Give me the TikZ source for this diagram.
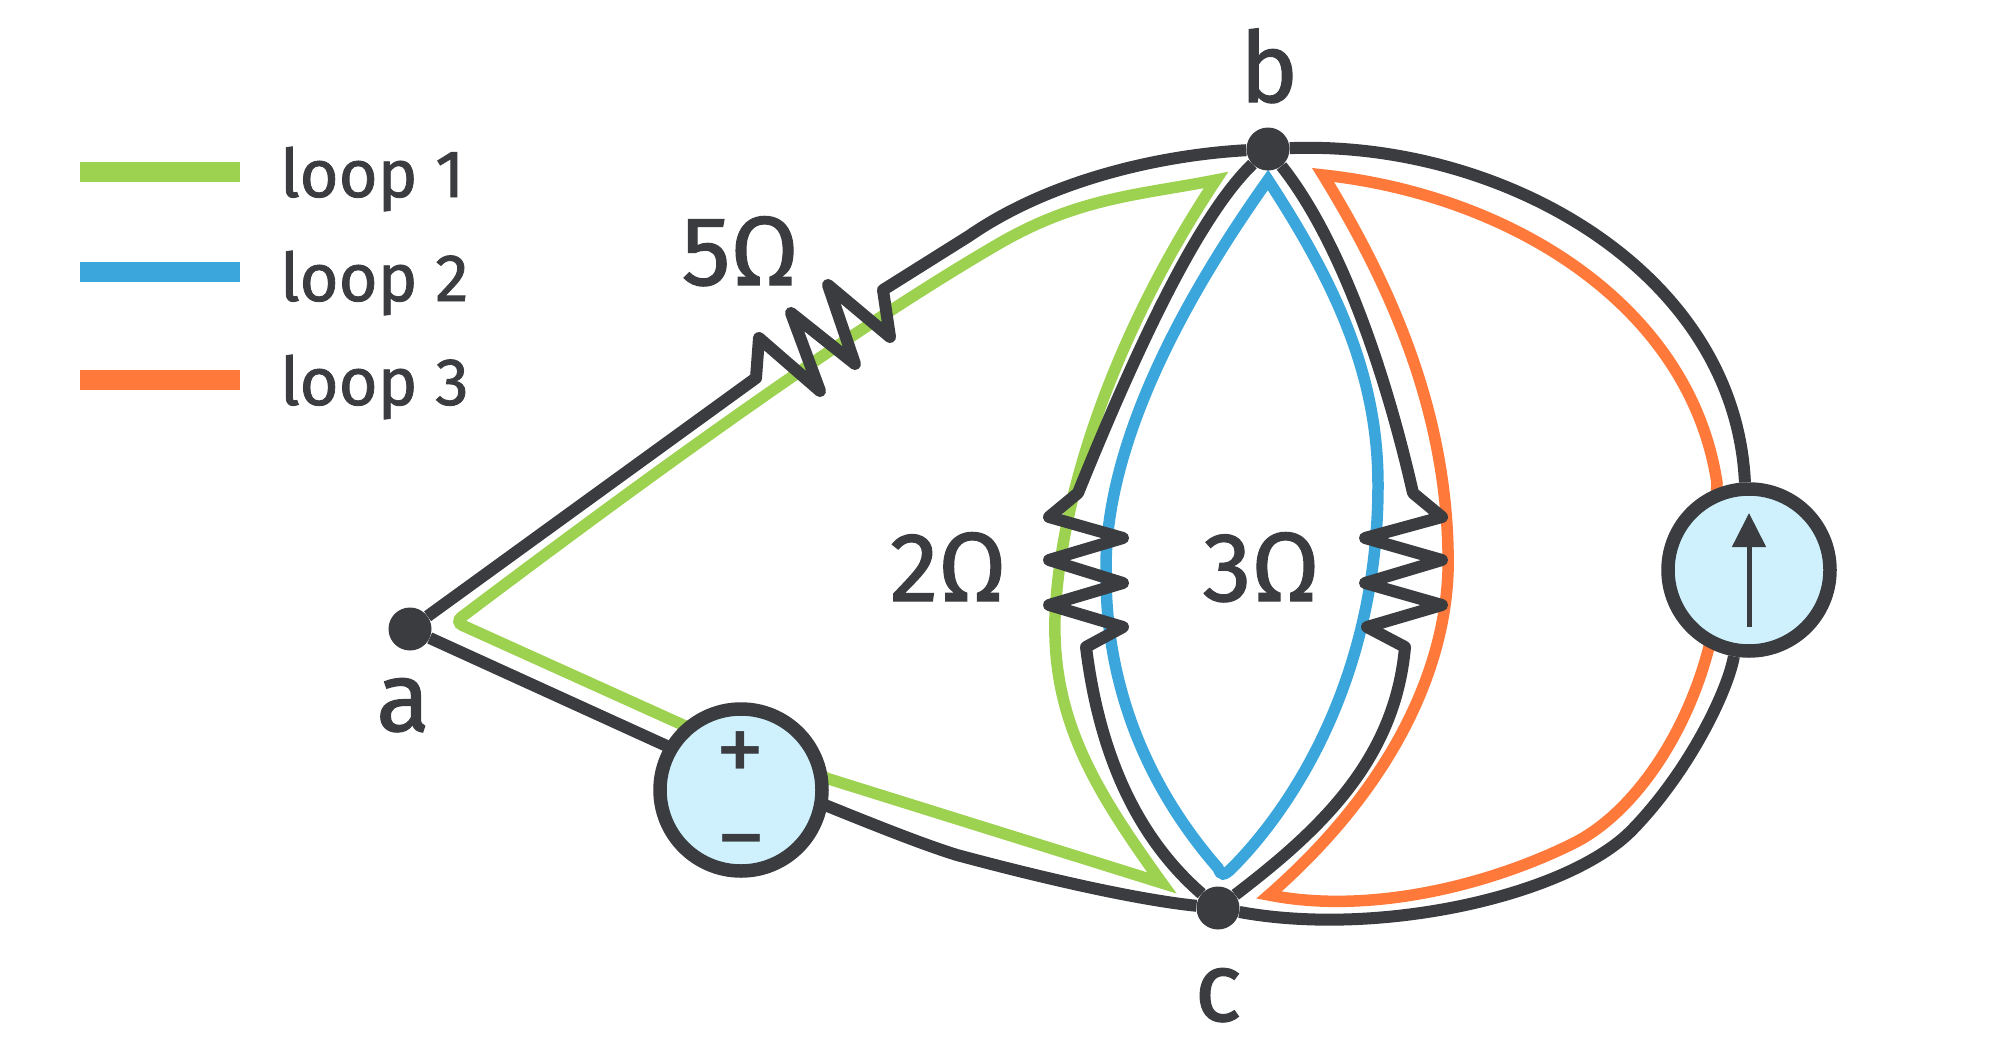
\documentclass[tikz,border=0pt]{standalone}
\usepackage{fontspec}
\setmainfont{Fira Sans}
\newfontfamily\labelfont[FakeBold=1.2]{Fira Sans}
\usetikzlibrary{arrows.meta,backgrounds}
\definecolor{wirecol}{HTML}{3A3C40}
\definecolor{srcfill}{HTML}{CFF1FD}
\definecolor{loopone}{HTML}{9DD250}
\definecolor{looptwo}{HTML}{3BA6DC}
\definecolor{loopthree}{HTML}{FF7A3A}

\begin{document}
\begin{tikzpicture}[
    x=1pt, y=-1pt,
    wire/.style={draw=wirecol, line width=12pt, line join=round},
    loopline/.style={line width=11.5pt, line join=miter, miter limit=20},
    junction/.style={circle, fill=wirecol, minimum size=43pt, inner sep=0pt},
    source/.style={circle, draw=wirecol, fill=srcfill, line width=13.5pt, minimum size=162pt, inner sep=0pt},
    label/.style={text=wirecol, font=\labelfont\fontsize{98}{98}\selectfont, anchor=base, inner sep=0pt},
    legendlab/.style={text=wirecol, font=\labelfont\fontsize{67}{67}\selectfont, anchor=base west, inner sep=0pt},
    sign/.style={text=wirecol, font=\fontsize{100}{100}\selectfont, inner sep=0pt}
]
\useasboundingbox (0,0) rectangle (2000,1044);

% legend
\foreach \i/\ybar/\ybase/\col in {1/172/197/loopone, 2/272/301/looptwo, 3/380/405/loopthree} {
    \fill[\col] (80,\ybar-10) rectangle (240,\ybar+10);
    \node[legendlab] (leg\i) at (280,\ybase) {loop \i};
}

\node[junction] (a) at (410,629) {};
\node[junction] (b) at (1268,149) {};
\node[junction] (c) at (1218,908) {};
\node[source] (vsrc) at (741,790) {};
\node[source] (isrc) at (1749,570) {};

\node[label] (la) at (403,731) {a};
\node[label] (lb) at (1269,102) {b};
\node[label] (lc) at (1218,1021) {c};
\node[label] (r5) at (740,285) {5Ω};
\node[label] (r2) at (948,601) {2Ω};
\node[label] (r3) at (1261,601) {3Ω};

\node[sign] (plus) at (740,758) {+};
\node[sign] (minus) at (741,853) {−};
\coordinate (arrbot) at (1749,627);
\coordinate (arrtop) at (1749,513);
\draw[wirecol, line width=5pt, -{Triangle[length=34pt,width=33pt]}] (arrbot) -- (arrtop);

\begin{scope}[on background layer]
% the three loops
\draw[loopline, loopone] (1216,180) .. controls (1110,340) and (1060,500) .. (1055,617)
    .. controls (1052,720) and (1095,790) .. (1162,883)
    -- (829,779) -- (683,725)
    [rounded corners=8pt] -- (455,622) [sharp corners]
    .. controls (650,475) and (850,330) .. (1000,243)
    .. controls (1080,197) and (1140,195) .. cycle;
\draw[loopline, looptwo] (1268,180) .. controls (1165,325) and (1105,460) .. (1106,570)
    .. controls (1105,690) and (1150,790) .. (1218,868)
    .. controls (1221,876) and (1224,876) .. (1232,868)
    .. controls (1290,810) and (1378,680) .. (1378,485)
    .. controls (1378,380) and (1340,290) .. cycle;
\draw[loopline, loopthree] (1323,175) .. controls (1510,195) and (1690,305) .. (1717,483)
    -- (1709,647)
    .. controls (1685,740) and (1630,815) .. (1574,843)
    .. controls (1490,885) and (1370,915) .. (1269,895)
    .. controls (1395,785) and (1452,660) .. (1448,550)
    .. controls (1445,420) and (1400,300) .. cycle;
% wires
\coordinate (vl) at (680,752);
\coordinate (vr) at (800,795);
\draw[wire] (a) -- (756,378) -- (759,338) -- (820,391) -- (791,313) -- (855,364) -- (828,285) -- (890,337) -- (883,290)
    -- (969,236) .. controls (1050,180) and (1160,155) .. (b);
\draw[wire] (b) .. controls (1200,215) and (1140,340) .. (1078,493)
    -- (1049,517) -- (1123,538) -- (1049,560) -- (1123,583) -- (1049,605) -- (1123,627) -- (1086,647)
    .. controls (1100,760) and (1140,840) .. (c);
\draw[wire] (b) .. controls (1340,240) and (1385,370) .. (1413,493)
    -- (1442,517) -- (1365,538) -- (1442,560) -- (1365,583) -- (1442,605) -- (1367,627) -- (1405,647)
    .. controls (1395,760) and (1320,830) .. (c);
\draw[wire] (b) .. controls (1500,140) and (1735,270) .. (isrc);
\draw[wire] (isrc) .. controls (1728,690) and (1690,770) .. (1633,829)
    .. controls (1570,895) and (1380,938) .. (c);
\draw[wire] (a) -- (vl);
\draw[wire] (vr) .. controls (850,815) and (915,842) .. (957,855)
    .. controls (1050,880) and (1140,900) .. (c);
\end{scope}

\end{tikzpicture}
\end{document}
